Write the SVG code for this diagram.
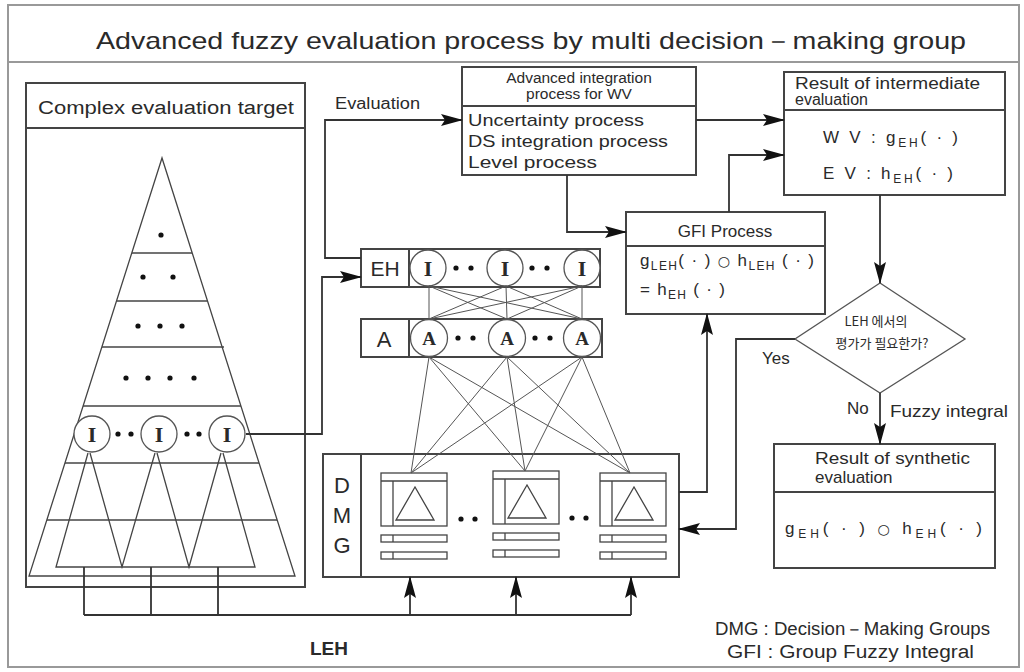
<svg xmlns="http://www.w3.org/2000/svg" width="1024" height="672" viewBox="0 0 1024 672">
  <defs>
    <marker id="ah" markerUnits="userSpaceOnUse" markerWidth="22" markerHeight="12" refX="21" refY="6" orient="auto">
      <path d="M0,0 L22,6 L0,12 L4,6 z" fill="#111"/>
    </marker>
    <g id="unit">
      <rect x="0" y="0" width="66" height="53" class="thin"/>
      <line x1="0" y1="8" x2="66" y2="8" class="thin"/>
      <line x1="12" y1="8" x2="12" y2="53" class="thin"/>
      <polygon points="34,14 15,47 53,47" class="thin"/>
      <rect x="0" y="62" width="66" height="7" class="thin"/>
      <line x1="12" y1="62" x2="12" y2="69" class="thin"/>
      <rect x="0" y="79" width="66" height="7" class="thin"/>
      <line x1="12" y1="79" x2="12" y2="86" class="thin"/>
    </g>
  </defs>
  <style>
    text { font-family: "Liberation Sans", Arial, sans-serif; fill: #2a2a2a; }
    .box { fill: #fff; stroke: #444; stroke-width: 2; }
    .thin { fill: none; stroke: #444; stroke-width: 1.3; }
    .net { fill: none; stroke: #555; stroke-width: 1; }
    .conn { fill: none; stroke: #333; stroke-width: 1.8; }
    .arr { fill: none; stroke: #333; stroke-width: 1.8; marker-end: url(#ah); }
    .circ { fill: #fff; stroke: #555; stroke-width: 1.3; }
    .sym { font-family: "Liberation Serif", "Times New Roman", serif; font-weight: bold; text-anchor: middle; }
    .dot { fill: #111; }
    .frame { fill: none; stroke: #999; stroke-width: 2; }
    .ko { font-family: "Noto Sans CJK KR", "Liberation Sans", sans-serif; }
    .op { font-family: "DejaVu Sans", sans-serif; font-size: 14px; }
  </style>

  <rect width="1024" height="672" fill="#fff"/>

  <!-- outer frame and title band -->
  <g id="title">
    <rect x="8" y="5" width="1011" height="662" class="frame"/>
    <line x1="8" y1="62" x2="1019" y2="62" class="frame"/>
    <text x="531" y="49" font-size="24" text-anchor="middle" textLength="870" lengthAdjust="spacingAndGlyphs">Advanced fuzzy evaluation process by multi decision－making group</text>
  </g>

  <!-- complex evaluation target with its hierarchy pyramid -->
  <g id="target">
    <rect x="26" y="83" width="279" height="504" class="box"/>
    <line x1="26" y1="128" x2="305" y2="128" class="box"/>
    <text x="166" y="114" font-size="18" text-anchor="middle" textLength="256" lengthAdjust="spacingAndGlyphs">Complex evaluation target</text>
    <polygon points="162,158 29,576 295,576" class="thin"/>
    <g class="thin">
      <line x1="132" y1="253" x2="192" y2="253"/>
      <line x1="117" y1="301" x2="207" y2="301"/>
      <line x1="102" y1="347" x2="224" y2="347"/>
      <line x1="83" y1="406" x2="241" y2="406"/>
      <line x1="65" y1="463" x2="259" y2="463"/>
      <line x1="47" y1="520" x2="277" y2="520"/>
    </g>
    <g class="dot">
      <circle cx="161" cy="235" r="2.6"/>
      <circle cx="143" cy="277" r="2.6"/>
      <circle cx="173" cy="277" r="2.6"/>
      <circle cx="138" cy="326" r="2.6"/>
      <circle cx="160" cy="326" r="2.6"/>
      <circle cx="182" cy="326" r="2.6"/>
      <circle cx="126" cy="378" r="2.6"/>
      <circle cx="148" cy="378" r="2.6"/>
      <circle cx="170" cy="378" r="2.6"/>
      <circle cx="194" cy="378" r="2.6"/>
    </g>
    <polyline points="88,453 56,567 255,567 223,453" class="thin"/>
    <polyline points="90,453 122,567 155,453" class="thin"/>
    <polyline points="157,453 189,567 221,453" class="thin"/>
    <circle cx="92" cy="434" r="18" class="circ"/>
    <circle cx="159" cy="434" r="18" class="circ"/>
    <circle cx="227" cy="434" r="18" class="circ"/>
    <text x="92" y="442" font-size="22" class="sym">I</text>
    <text x="159" y="442" font-size="22" class="sym">I</text>
    <text x="227" y="442" font-size="22" class="sym">I</text>
    <g class="dot">
      <circle cx="118" cy="434" r="2.6"/>
      <circle cx="131" cy="434" r="2.6"/>
      <circle cx="187" cy="434" r="2.6"/>
      <circle cx="199" cy="434" r="2.6"/>
    </g>
  </g>

  <!-- evaluation hierarchy row -->
  <g id="eh">
    <rect x="361" y="249" width="239" height="38" class="box"/>
    <line x1="409" y1="249" x2="409" y2="287" class="box"/>
    <text x="385" y="276" font-size="21" text-anchor="middle">EH</text>
    <circle cx="428" cy="268" r="18" class="circ"/>
    <circle cx="505" cy="268" r="18" class="circ"/>
    <circle cx="582" cy="268" r="18" class="circ"/>
    <text x="428" y="276" font-size="22" class="sym">I</text>
    <text x="505" y="276" font-size="22" class="sym">I</text>
    <text x="582" y="276" font-size="22" class="sym">I</text>
    <g class="dot">
      <circle cx="456" cy="268" r="2.6"/>
      <circle cx="471" cy="268" r="2.6"/>
      <circle cx="532" cy="268" r="2.6"/>
      <circle cx="547" cy="268" r="2.6"/>
    </g>
  </g>

  <!-- attribute row -->
  <g id="attr">
    <rect x="361" y="319" width="241" height="38" class="box"/>
    <line x1="409" y1="319" x2="409" y2="357" class="box"/>
    <text x="384" y="347" font-size="22" text-anchor="middle">A</text>
    <circle cx="429" cy="338" r="18.5" class="circ"/>
    <circle cx="507" cy="338" r="18.5" class="circ"/>
    <circle cx="582" cy="338" r="18.5" class="circ"/>
    <text x="429" y="345" font-size="19" class="sym">A</text>
    <text x="507" y="345" font-size="19" class="sym">A</text>
    <text x="582" y="345" font-size="19" class="sym">A</text>
    <g class="dot">
      <circle cx="458" cy="338" r="2.6"/>
      <circle cx="473" cy="338" r="2.6"/>
      <circle cx="535" cy="338" r="2.6"/>
      <circle cx="550" cy="338" r="2.6"/>
    </g>
  </g>

  <!-- decision-making groups -->
  <g id="dmg">
    <rect x="323" y="454" width="356" height="123" class="box"/>
    <line x1="361" y1="454" x2="361" y2="577" class="box"/>
    <text x="342" y="493" font-size="22" text-anchor="middle">D</text>
    <text x="342" y="523" font-size="22" text-anchor="middle">M</text>
    <text x="342" y="553" font-size="22" text-anchor="middle">G</text>
    <use href="#unit" x="381" y="473"/>
    <use href="#unit" x="493" y="471"/>
    <use href="#unit" x="600" y="473"/>
    <g class="dot">
      <circle cx="461" cy="519" r="2.6"/>
      <circle cx="475" cy="519" r="2.6"/>
      <circle cx="572" cy="518" r="2.6"/>
      <circle cx="586" cy="518" r="2.6"/>
    </g>
  </g>

  <!-- advanced integration process for WV -->
  <g id="integration">
    <rect x="462" y="67" width="234" height="108" class="box"/>
    <line x1="462" y1="106" x2="696" y2="106" class="box"/>
    <text x="579" y="83" font-size="15.5" text-anchor="middle">Advanced integration</text>
    <text x="579" y="99" font-size="15.5" text-anchor="middle">process for WV</text>
    <text x="468" y="126" font-size="17" textLength="176" lengthAdjust="spacingAndGlyphs">Uncertainty process</text>
    <text x="468" y="147" font-size="17" textLength="200" lengthAdjust="spacingAndGlyphs">DS integration process</text>
    <text x="468" y="168" font-size="17" textLength="129" lengthAdjust="spacingAndGlyphs">Level process</text>
  </g>

  <!-- group fuzzy integral process -->
  <g id="gfi">
    <rect x="626" y="212" width="199" height="102" class="box"/>
    <line x1="626" y1="246" x2="825" y2="246" class="box"/>
    <text x="725" y="237" font-size="17" text-anchor="middle">GFI Process</text>
    <text x="640" y="266" font-size="17" textLength="174" lengthAdjust="spacing">g<tspan font-size="12" dy="4">LEH</tspan><tspan dy="-4">( · ) </tspan><tspan class="op">○</tspan><tspan> h</tspan><tspan font-size="12" dy="4">LEH</tspan><tspan dy="-4"> ( · )</tspan></text>
    <text x="640" y="295" font-size="17" textLength="85" lengthAdjust="spacing">= h<tspan font-size="12" dy="4">EH</tspan><tspan dy="-4"> ( · )</tspan></text>
  </g>

  <!-- intermediate evaluation result -->
  <g id="intermediate">
    <rect x="784" y="72" width="221" height="123" class="box"/>
    <line x1="784" y1="110" x2="1005" y2="110" class="box"/>
    <text x="795" y="89" font-size="16" textLength="185" lengthAdjust="spacingAndGlyphs">Result of intermediate</text>
    <text x="795" y="105" font-size="16">evaluation</text>
    <text x="823" y="143" font-size="17" textLength="135" lengthAdjust="spacing">W V : g<tspan font-size="12" dy="4">EH</tspan><tspan dy="-4">( · )</tspan></text>
    <text x="823" y="179" font-size="17" textLength="130" lengthAdjust="spacing">E V : h<tspan font-size="12" dy="4">EH</tspan><tspan dy="-4">( · )</tspan></text>
  </g>

  <!-- decision: is evaluation at LEH needed? -->
  <g id="decision">
    <polygon points="880,283 965,339 880,393 795,339" fill="#fff" stroke="#555" stroke-width="1.3"/>
    <text x="876" y="326" font-size="13" text-anchor="middle" class="ko">LEH 에서의</text>
    <text x="882" y="348" font-size="13" text-anchor="middle" class="ko">평가가 필요한가?</text>
  </g>

  <!-- synthetic evaluation result -->
  <g id="synthetic">
    <rect x="774" y="444" width="221" height="124" class="box"/>
    <line x1="774" y1="492" x2="995" y2="492" class="box"/>
    <text x="815" y="464" font-size="17" textLength="155" lengthAdjust="spacingAndGlyphs">Result of synthetic</text>
    <text x="815" y="483" font-size="17">evaluation</text>
    <text x="785" y="534" font-size="17" textLength="197" lengthAdjust="spacing">g<tspan font-size="12" dy="4">EH</tspan><tspan dy="-4">( · ) </tspan><tspan class="op">○</tspan><tspan> h</tspan><tspan font-size="12" dy="4">EH</tspan><tspan dy="-4">( · )</tspan></text>
  </g>

  <!-- connectors -->
  <g id="connectors">
    <g class="net">
      <line x1="429" y1="286" x2="429" y2="319"/>
      <line x1="429" y1="286" x2="507" y2="319"/>
      <line x1="429" y1="286" x2="582" y2="319"/>
      <line x1="506" y1="286" x2="429" y2="319"/>
      <line x1="506" y1="286" x2="507" y2="319"/>
      <line x1="506" y1="286" x2="582" y2="319"/>
      <line x1="582" y1="286" x2="429" y2="319"/>
      <line x1="582" y1="286" x2="507" y2="319"/>
      <line x1="582" y1="286" x2="582" y2="319"/>

      <line x1="429" y1="357" x2="411" y2="473"/>
      <line x1="429" y1="357" x2="525" y2="471"/>
      <line x1="429" y1="357" x2="630" y2="473"/>
      <line x1="507" y1="357" x2="411" y2="473"/>
      <line x1="507" y1="357" x2="525" y2="471"/>
      <line x1="507" y1="357" x2="630" y2="473"/>
      <line x1="582" y1="357" x2="411" y2="473"/>
      <line x1="582" y1="357" x2="525" y2="471"/>
      <line x1="582" y1="357" x2="630" y2="473"/>
    </g>

    <path d="M361,258 H325 V120 H462" class="arr"/>
    <path d="M246,434 H322 V277 H361" class="arr"/>
    <path d="M696,120 H784" class="arr"/>
    <path d="M567,175 V232 H626" class="arr"/>
    <path d="M729,212 V155 H784" class="arr"/>
    <path d="M880,195 V283" class="arr"/>
    <path d="M880,393 V444" class="arr"/>
    <path d="M795,339 H736 V529 H679" class="arr"/>
    <path d="M679,492 H707 V314" class="arr"/>

    <path d="M84,567 V615 M151,567 V615 M218,567 V615 M84,615 H631" class="conn"/>
    <path d="M410,615 V577" class="arr"/>
    <path d="M516,615 V577" class="arr"/>
    <path d="M631,615 V577" class="arr"/>

    <text x="335" y="109" font-size="16" textLength="85" lengthAdjust="spacingAndGlyphs">Evaluation</text>
    <text x="762" y="364" font-size="17">Yes</text>
    <text x="847" y="414" font-size="17">No</text>
    <text x="890" y="417" font-size="17" textLength="118" lengthAdjust="spacingAndGlyphs">Fuzzy integral</text>
    <text x="310" y="655" font-size="19" font-weight="bold">LEH</text>
  </g>

  <!-- legend -->
  <g id="legend">
    <text x="715" y="635" font-size="18" fill="#444" textLength="275" lengthAdjust="spacingAndGlyphs">DMG : Decision－Making Groups</text>
    <text x="727" y="658" font-size="18" fill="#444" textLength="247" lengthAdjust="spacingAndGlyphs">GFI : Group Fuzzy Integral</text>
  </g>
</svg>
